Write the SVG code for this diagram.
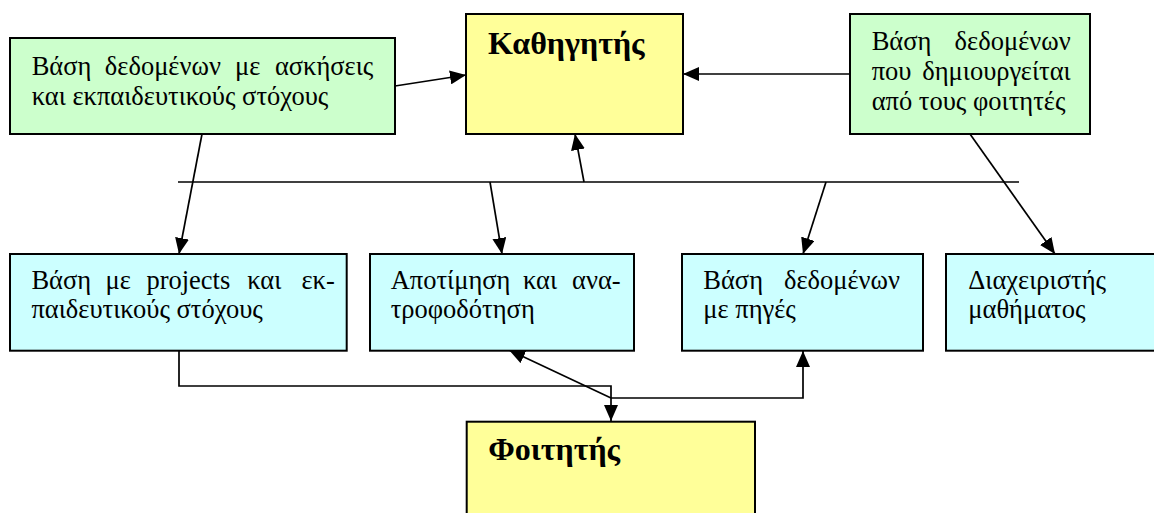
<svg xmlns="http://www.w3.org/2000/svg" width="1154" height="513" viewBox="0 0 1154 513">
  <style>
    .box { stroke: #000; stroke-width: 2; }
    .green { fill: #CCFFCC; }
    .yellow { fill: #FFFF99; }
    .cyan { fill: #CCFFFF; }
    .txt { font-family: "Liberation Serif", "Times New Roman", serif; font-size: 26.5px; fill: #000; }
    .title { font-family: "Liberation Serif", "Times New Roman", serif; font-size: 32px; font-weight: bold; fill: #000; }
    .end { text-anchor: end; }
    .conn { fill: none; stroke: #000; stroke-width: 1.7; }
  </style>
  <defs>
    <marker id="arrow" markerUnits="userSpaceOnUse" markerWidth="16" markerHeight="14" refX="16" refY="7" orient="auto">
      <path d="M0,0 L16,7 L0,14 Z" fill="#000"/>
    </marker>
  </defs>

  <rect width="1154" height="513" fill="#fff"/>

  <!-- connectors -->
  <g id="connectors">
    <path class="conn" d="M395,86 L466,75" marker-end="url(#arrow)"/>
    <path class="conn" d="M850,74 L683,74" marker-end="url(#arrow)"/>
    <path class="conn" d="M178,182 L1019,182"/>
    <path class="conn" d="M584,182 L575,134" marker-end="url(#arrow)"/>
    <path class="conn" d="M490,182 L502,254" marker-end="url(#arrow)"/>
    <path class="conn" d="M826,182 L803,254" marker-end="url(#arrow)"/>
    <path class="conn" d="M202,134 L179,254" marker-end="url(#arrow)"/>
    <path class="conn" d="M970,134 L1055,254" marker-end="url(#arrow)"/>
    <path class="conn" d="M179,351 L179,386 L611,386 L611,421" marker-end="url(#arrow)"/>
    <path class="conn" d="M611,398 L509,350" marker-end="url(#arrow)"/>
    <path class="conn" d="M611,398 L803,398 L803,351" marker-end="url(#arrow)"/>
  </g>

  <!-- teacher -->
  <g id="teacher">
    <rect class="box yellow" x="466" y="14" width="217" height="120"/>
    <text class="title" x="488" y="54">Καθηγητής</text>
  </g>

  <!-- exercises database -->
  <g id="exercises-db">
    <rect class="box green" x="10" y="38" width="385" height="96"/>
    <text class="txt" y="75"><tspan x="31.7">Βάση</tspan><tspan x="104.8">δεδομένων</tspan><tspan x="235">με</tspan><tspan class="end" x="373.3">ασκήσεις</tspan></text>
    <text class="txt" x="31.7" y="105">και εκπαιδευτικούς στόχους</text>
  </g>

  <!-- student-built database -->
  <g id="student-db">
    <rect class="box green" x="850" y="14" width="240" height="120"/>
    <text class="txt" y="50"><tspan x="871.7">Βάση</tspan><tspan class="end" x="1070.7">δεδομένων</tspan></text>
    <text class="txt" y="80"><tspan x="871.7">που</tspan><tspan class="end" x="1070.7">δημιουργείται</tspan></text>
    <text class="txt" x="871.7" y="110">από τους φοιτητές</text>
  </g>

  <!-- projects -->
  <g id="projects">
    <rect class="box cyan" x="10" y="254" width="336.7" height="96.7"/>
    <text class="txt" y="289"><tspan x="31.4">Βάση</tspan><tspan x="105.6">με</tspan><tspan x="146.4">projects</tspan><tspan x="247.2">και</tspan><tspan class="end" x="334.8">εκ-</tspan></text>
    <text class="txt" x="31.4" y="318">παιδευτικούς στόχους</text>
  </g>

  <!-- assessment -->
  <g id="assessment">
    <rect class="box cyan" x="370" y="254" width="264" height="96.7"/>
    <text class="txt" y="289"><tspan x="390.7">Αποτίμηση</tspan><tspan x="523">και</tspan><tspan class="end" x="620.6">ανα-</tspan></text>
    <text class="txt" x="390.7" y="318">τροφοδότηση</text>
  </g>

  <!-- sources -->
  <g id="sources">
    <rect class="box cyan" x="682" y="254" width="241" height="96.7"/>
    <text class="txt" y="289"><tspan x="703.3">Βάση</tspan><tspan class="end" x="900">δεδομένων</tspan></text>
    <text class="txt" x="703.3" y="318">με πηγές</text>
  </g>

  <!-- course admin -->
  <g id="course-admin">
    <rect class="box cyan" x="946" y="254" width="220" height="96.7"/>
    <text class="txt" x="968.3" y="289">Διαχειριστής</text>
    <text class="txt" x="968.3" y="318">μαθήματος</text>
  </g>

  <!-- student -->
  <g id="student">
    <rect class="box yellow" x="466.7" y="421.7" width="288.3" height="100"/>
    <text class="title" x="488.3" y="460">Φοιτητής</text>
  </g>
</svg>
